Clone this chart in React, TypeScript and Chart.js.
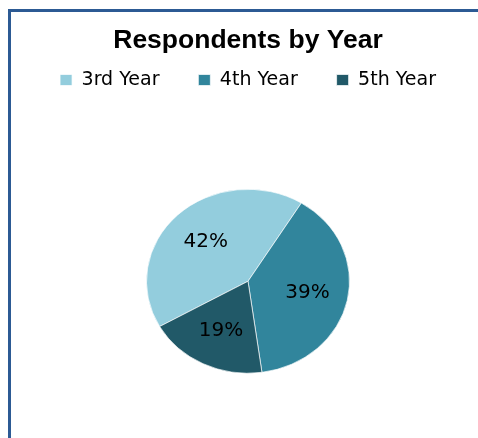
import React, { useEffect, useRef } from "react";
import { Chart, registerables } from "chart.js";

Chart.register(...registerables);

const TITLE = "Respondents by Year";
const CATEGORIES = ["3rd Year", "4th Year", "5th Year"];
const VALUES = [42, 39, 19];
const COLORS = ["#93CDDD", "#31859C", "#215968"];

const Y_SCALE = 0.906;
const LABEL_FRACTION = 0.6;

const ellipsePlugin = {
  id: "ellipsePie",
  beforeDatasetsDraw(chart: any) {
    const arc = chart.getDatasetMeta(0).data[0];
    const ctx = chart.ctx;
    ctx.save();
    if (arc) {
      ctx.translate(arc.x, arc.y);
      ctx.scale(1, Y_SCALE);
      ctx.translate(-arc.x, -arc.y);
    }
  },
  afterDatasetsDraw(chart: any) {
    const ctx = chart.ctx;
    ctx.restore();
    const meta = chart.getDatasetMeta(0);
    const total = VALUES.reduce((a, b) => a + b, 0);
    ctx.save();
    ctx.font = "20px 'DejaVu Sans'";
    ctx.fillStyle = "#000000";
    ctx.textAlign = "center";
    ctx.textBaseline = "middle";
    meta.data.forEach((arc: any, i: number) => {
      const { x, y, startAngle, endAngle, outerRadius } = arc.getProps(
        ["x", "y", "startAngle", "endAngle", "outerRadius"],
        true
      );
      const mid = (startAngle + endAngle) / 2;
      const r = outerRadius * LABEL_FRACTION;
      const lx = x + Math.cos(mid) * r;
      const ly = y + Math.sin(mid) * r * Y_SCALE;
      ctx.fillText(`${Math.round((VALUES[i] / total) * 100)}%`, lx, ly);
    });
    ctx.restore();
  },
};

export default function App() {
  const canvasRef = useRef<HTMLCanvasElement | null>(null);

  useEffect(() => {
    if (!canvasRef.current) return;
    const chart = new Chart(canvasRef.current, {
      type: "pie",
      data: {
        labels: CATEGORIES,
        datasets: [
          {
            data: VALUES,
            backgroundColor: COLORS,
            borderColor: "rgba(255,255,255,0.7)",
            borderWidth: 1,
          },
        ],
      },
      options: {
        responsive: true,
        maintainAspectRatio: false,
        animation: false,
        rotation: 240.5,
        radius: 101.5,
        layout: { padding: 0 },
        plugins: {
          title: {
            display: true,
            text: TITLE,
            color: "#000000",
            font: { family: "'Liberation Sans'", size: 26.5, weight: "bold", lineHeight: 1.2 },
            padding: { top: 25.1, bottom: -25.3 },
          },
          legend: {
            display: true,
            position: "top",
            labels: {
              boxWidth: 12,
              boxHeight: 11,
              padding: 38.9,
              color: "#000000",
              font: { family: "'DejaVu Sans'", size: 19 },
            },
          },
          tooltip: { enabled: false },
        },
      } as any,
      plugins: [ellipsePlugin],
    });
    return () => chart.destroy();
  }, []);

  return (
    <div
      style={{
        position: "fixed",
        left: 0,
        top: 0,
        width: 478,
        height: 438,
        background: "#ffffff",
        overflow: "hidden",
      }}
    >
      <div
        style={{
          position: "absolute",
          left: 8,
          top: 9,
          width: 600,
          height: 600,
          borderLeft: "3px solid #2C5A94",
          borderTop: "3px solid #2C5A94",
        }}
      />
      <div style={{ position: "absolute", left: 0, top: 0, width: 496, height: 463 }}>
        <canvas ref={canvasRef} />
      </div>
    </div>
  );
}
